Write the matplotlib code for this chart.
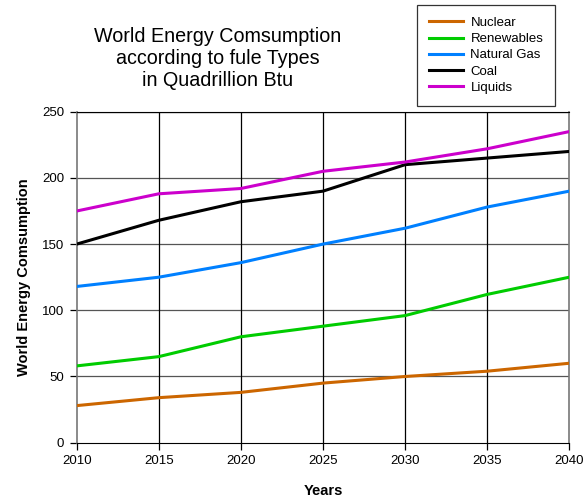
import numpy as np
import matplotlib.pyplot as plt
from matplotlib.lines import Line2D

plt.rcParams['font.family'] = ['Liberation Sans', 'DejaVu Sans']

# data
years = [2010, 2015, 2020, 2025, 2030, 2035, 2040]
nuclear = [28, 34, 38, 45, 50, 54, 60]
renewables = [58, 65, 80, 88, 96, 112, 125]
natural_gas = [118, 125, 136, 150, 162, 178, 190]
coal = [150, 168, 182, 190, 210, 215, 220]
liquids = [175, 188, 192, 205, 212, 222, 235]

series_names = ['Nuclear', 'Renewables', 'Natural Gas', 'Coal', 'Liquids']
series_colors = ['#CC6600', '#00CC00', '#0080FF', '#000000', '#CC00CC']

fig = plt.figure(figsize=(5.84, 5.01), dpi=100)
ax = fig.add_axes([0.1313, 0.1164, 0.8435, 0.6606])

for vals, name, col in zip([nuclear, renewables, natural_gas, coal, liquids],
                           series_names, series_colors):
    ax.plot(years, vals, color=col, lw=2.2, label=name, zorder=3)

ax.set_xlim(2010, 2040)
ax.set_ylim(0, 250)
ax.set_xticks(years)
ax.set_yticks(np.arange(0, 251, 50))

# grid: horizontal gray-ish, vertical black
for y in range(50, 251, 50):
    ax.axhline(y, color='#555555' if y < 250 else 'black', lw=0.9, zorder=1)
for x in years[1:-1]:
    ax.axvline(x, color='black', lw=0.9, zorder=1)

for s in ['left', 'right']:
    ax.spines[s].set_color('#777777')
    ax.spines[s].set_linewidth(1.2)
ax.spines['top'].set_color('black')
ax.spines['bottom'].set_color('black')
ax.tick_params(direction='out', length=5, width=0.9, labelsize=9.5, pad=4)

ax.set_xlabel('Years', fontsize=10.5, fontweight='bold', labelpad=12)
ax.set_ylabel('World Energy Comsumption', fontsize=10.5, fontweight='bold', labelpad=8)

fig.text(0.373, 0.947, 'World Energy Comsumption\naccording to fule Types\nin Quadrillion Btu',
         ha='center', va='top', fontsize=14.2, linespacing=1.2)

handles = [Line2D([0], [0], color=c, lw=2.2) for c in series_colors]
leg = fig.legend(handles, series_names, loc='upper left',
                 bbox_to_anchor=(417 / 584, 1 - 5 / 501), fontsize=9.5,
                 frameon=True, fancybox=False, edgecolor='black',
                 handlelength=2.6, handletextpad=0.55, labelspacing=0.3,
                 borderpad=0.9, borderaxespad=0)
leg.get_frame().set_linewidth(0.9)

plt.savefig('out.png', dpi=100)
